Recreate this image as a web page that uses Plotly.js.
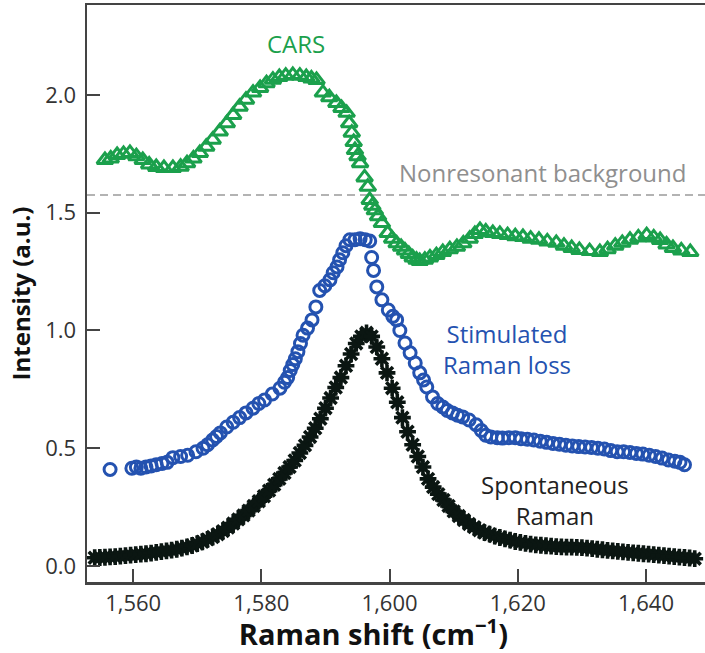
<!DOCTYPE html>
<html>
<head>
<meta charset="utf-8">
<script src="https://cdn.plot.ly/plotly-3.0.1.min.js"></script>
<style>
html,body{margin:0;padding:0;background:#fff;}
#chart{width:705px;height:653px;}
</style>
</head>
<body>
<div id="chart"></div>
<script>
// ---- Data ----
var spontX = [1554.0,1554.8,1555.6,1556.4,1557.2,1558.0,1558.8,1559.6,1560.4,1561.2,1562.0,1562.8,1563.6,1564.4,1565.2,1566.0,1566.8,1567.6,1568.4,1569.2,1570.0,1570.8,1571.6,1572.4,1573.2,1574.0,1574.8,1575.6,1576.4,1577.2,1578.0,1578.8,1579.6,1580.4,1581.2,1582.0,1582.8,1583.6,1584.4,1585.2,1586.0,1586.8,1587.6,1588.4,1589.2,1590.0,1590.8,1591.6,1592.4,1593.2,1594.0,1594.8,1595.6,1596.4,1597.2,1598.0,1598.8,1599.6,1600.4,1601.2,1602.0,1602.8,1603.6,1604.4,1605.2,1606.0,1606.8,1607.6,1608.4,1609.2,1610.0,1610.8,1611.6,1612.4,1613.2,1614.0,1614.8,1615.6,1616.4,1617.2,1618.0,1618.8,1619.6,1620.4,1621.2,1622.0,1622.8,1623.6,1624.4,1625.2,1626.0,1626.8,1627.6,1628.4,1629.2,1630.0,1630.8,1631.6,1632.4,1633.2,1634.0,1634.8,1635.6,1636.4,1637.2,1638.0,1638.8,1639.6,1640.4,1641.2,1642.0,1642.8,1643.6,1644.4,1645.2,1646.0,1646.8,1647.6];
var spontY = [0.035,0.036,0.037,0.039,0.040,0.042,0.044,0.046,0.048,0.050,0.052,0.055,0.058,0.061,0.064,0.067,0.071,0.076,0.081,0.087,0.095,0.103,0.113,0.123,0.135,0.148,0.163,0.180,0.198,0.215,0.235,0.255,0.275,0.296,0.320,0.345,0.370,0.395,0.420,0.448,0.480,0.512,0.548,0.585,0.625,0.670,0.713,0.758,0.800,0.850,0.900,0.945,0.975,0.990,0.975,0.930,0.880,0.820,0.755,0.695,0.630,0.570,0.515,0.465,0.420,0.370,0.335,0.305,0.280,0.255,0.232,0.212,0.195,0.178,0.165,0.152,0.142,0.135,0.127,0.121,0.115,0.110,0.104,0.100,0.096,0.093,0.090,0.088,0.086,0.084,0.082,0.081,0.080,0.080,0.079,0.078,0.076,0.074,0.071,0.069,0.066,0.064,0.062,0.060,0.058,0.056,0.054,0.052,0.050,0.048,0.046,0.044,0.042,0.040,0.038,0.036,0.034,0.031];

var srlX = [1556.4,1559.8,1560.5,1561.2,1562.0,1562.8,1563.6,1564.5,1565.3,1566.2,1567.4,1568.5,1569.8,1570.9,1571.6,1572.4,1573.0,1573.6,1574.6,1575.6,1576.6,1577.6,1578.7,1579.6,1580.5,1581.7,1582.9,1583.6,1584.1,1584.5,1584.9,1585.3,1585.7,1586.1,1586.5,1587.2,1587.9,1588.5,1589.1,1589.9,1590.7,1591.2,1591.8,1592.2,1592.7,1593.2,1593.8,1594.6,1595.4,1596.2,1596.9,1597.2,1597.5,1598.0,1598.8,1599.8,1600.5,1601.1,1601.6,1602.4,1603.2,1604.0,1604.7,1605.3,1605.8,1606.7,1607.5,1608.3,1609.0,1609.8,1610.6,1611.4,1612.4,1613.5,1614.3,1615.0,1615.8,1616.8,1617.6,1618.6,1619.6,1620.5,1621.5,1622.5,1623.5,1624.5,1625.5,1626.5,1627.5,1628.5,1629.5,1630.5,1631.5,1632.5,1633.5,1634.5,1635.5,1636.5,1637.5,1638.5,1639.5,1640.5,1641.5,1642.5,1643.5,1644.5,1645.3,1646.0];
var srlY = [0.410,0.415,0.420,0.415,0.420,0.425,0.430,0.435,0.440,0.460,0.465,0.470,0.485,0.500,0.515,0.535,0.550,0.565,0.590,0.610,0.630,0.650,0.670,0.690,0.705,0.730,0.755,0.780,0.800,0.830,0.855,0.880,0.910,0.945,0.980,1.010,1.045,1.100,1.170,1.190,1.215,1.245,1.270,1.300,1.330,1.360,1.385,1.385,1.390,1.385,1.380,1.310,1.255,1.185,1.130,1.087,1.060,1.045,1.000,0.947,0.905,0.862,0.820,0.790,0.760,0.718,0.690,0.675,0.660,0.650,0.640,0.633,0.620,0.600,0.575,0.555,0.548,0.545,0.543,0.545,0.545,0.540,0.538,0.535,0.530,0.525,0.520,0.517,0.513,0.510,0.507,0.505,0.503,0.500,0.497,0.490,0.485,0.485,0.482,0.478,0.475,0.470,0.465,0.458,0.450,0.445,0.440,0.430];

var carsX = [1555.6,1556.5,1557.5,1558.5,1559.5,1560.5,1561.5,1562.5,1563.6,1564.8,1566.2,1567.4,1568.4,1569.4,1570.4,1571.4,1572.4,1573.5,1574.6,1575.6,1576.6,1577.6,1578.7,1579.8,1580.8,1581.8,1582.8,1583.8,1584.9,1586.0,1587.0,1587.8,1588.6,1589.6,1590.6,1591.7,1592.5,1593.3,1593.7,1594.1,1594.4,1594.6,1595.0,1595.4,1596.1,1596.6,1596.9,1597.3,1597.7,1598.2,1598.8,1599.7,1600.4,1601.1,1601.8,1602.4,1603.0,1603.6,1604.2,1604.7,1605.5,1606.3,1607.3,1608.3,1609.4,1610.5,1611.5,1612.5,1613.3,1614.1,1615.0,1616.1,1617.2,1618.4,1619.6,1620.8,1622.0,1623.3,1624.6,1626.0,1627.2,1628.4,1629.6,1631.2,1632.8,1634.0,1635.2,1636.3,1637.5,1638.8,1640.1,1641.2,1642.2,1643.2,1644.2,1645.5,1646.9];
var carsY = [1.724,1.730,1.745,1.750,1.754,1.740,1.724,1.705,1.694,1.690,1.690,1.695,1.710,1.730,1.754,1.780,1.810,1.845,1.880,1.915,1.950,1.980,2.010,2.030,2.050,2.065,2.076,2.082,2.085,2.082,2.076,2.070,2.064,2.010,1.990,1.966,1.945,1.924,1.880,1.840,1.800,1.766,1.740,1.710,1.650,1.610,1.554,1.530,1.510,1.485,1.456,1.414,1.390,1.370,1.355,1.340,1.325,1.310,1.300,1.295,1.300,1.310,1.320,1.333,1.345,1.355,1.370,1.390,1.410,1.427,1.420,1.414,1.410,1.405,1.400,1.397,1.390,1.385,1.378,1.372,1.360,1.350,1.342,1.337,1.333,1.345,1.360,1.372,1.385,1.395,1.405,1.395,1.384,1.365,1.350,1.340,1.333];

var nonresonantLevel = 1.575;
var xTicks = [1560, 1580, 1600, 1620, 1640];
var yTicks = [0.0, 0.5, 1.0, 1.5, 2.0];

var FONT = '"Open Sans", "Noto Sans", sans-serif';
var green = '#1ba04c';
var blue = '#2452b0';
var black = '#0b1612';

var traces = [
  {x: spontX, y: spontY, type: 'scatter', mode: 'markers', name: 'Spontaneous Raman',
   marker: {symbol: 'asterisk-open', size: 14, color: black, line: {color: black, width: 3.6}}},
  {x: srlX, y: srlY, type: 'scatter', mode: 'markers', name: 'Stimulated Raman loss',
   marker: {symbol: 'circle-open', size: 12, color: blue, line: {color: blue, width: 3}}},
  {x: carsX, y: carsY, type: 'scatter', mode: 'markers', name: 'CARS',
   marker: {symbol: 'triangle-up-open', size: 14, color: green, line: {color: green, width: 3}}}
];

var layout = {
  width: 705, height: 653,
  margin: {l: 87, r: 0, t: 5, b: 71},
  paper_bgcolor: '#fff', plot_bgcolor: '#fff',
  showlegend: false,
  font: {family: FONT, color: '#333', size: 22},
  xaxis: {
    range: [1552.8, 1649.2],
    tickmode: 'array', tickvals: xTicks, tickformat: ',d',
    ticks: 'inside', ticklen: 13, tickwidth: 2, tickcolor: '#444',
    showline: true, linecolor: '#444', linewidth: 2.5, mirror: true,
    showgrid: false, zeroline: false,
    tickfont: {family: FONT, size: 22, color: '#333'},
    ticklabelstandoff: 0,
    title: {text: '<b>Raman shift (cm<sup>−1</sup>)</b>&nbsp;&nbsp;&nbsp;&nbsp;&nbsp;&nbsp;', font: {family: FONT, size: 29, color: '#111'}, standoff: 6}
  },
  yaxis: {
    range: [-0.068, 2.382],
    tickmode: 'array', tickvals: yTicks, tickformat: '.1f',
    ticks: 'inside', ticklen: 13, tickwidth: 2, tickcolor: '#444',
    showline: true, linecolor: '#444', linewidth: 2.5, mirror: false,
    showgrid: false, zeroline: false,
    tickfont: {family: FONT, size: 22, color: '#333'},
    ticklabelstandoff: 4,
    title: {text: '<b>Intensity (a.u.)</b>', font: {family: FONT, size: 24, color: '#111'}, standoff: 8}
  },
  shapes: [
    {type: 'line', xref: 'paper', x0: 0, x1: 1, yref: 'y', y0: nonresonantLevel, y1: nonresonantLevel,
     line: {color: '#9a9a9a', width: 1.6, dash: '8px,5px'}, layer: 'below'}
  ],
  annotations: [
    {x: 1585.4, y: 2.22, xref: 'x', yref: 'y', text: 'CARS', showarrow: false,
     font: {family: FONT, size: 24, color: green}},
    {x: 1623.9, y: 1.669, xref: 'x', yref: 'y', text: 'Nonresonant background', showarrow: false,
     font: {family: FONT, size: 24, color: '#8f8f8f'}},
    {x: 1618.3, y: 0.921, xref: 'x', yref: 'y', text: 'Stimulated<br>Raman loss', showarrow: false,
     font: {family: FONT, size: 24, color: blue}},
    {x: 1625.8, y: 0.28, xref: 'x', yref: 'y', text: 'Spontaneous<br>Raman', showarrow: false,
     font: {family: FONT, size: 24, color: '#222'}}
  ]
};

Plotly.newPlot('chart', traces, layout, {displayModeBar: false, staticPlot: true});
</script>
</body>
</html>
